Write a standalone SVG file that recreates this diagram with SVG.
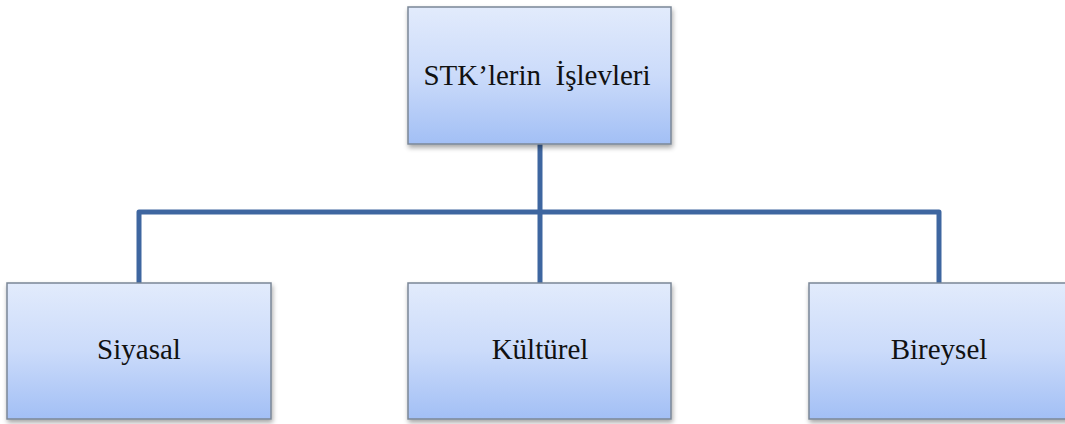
<svg xmlns="http://www.w3.org/2000/svg" width="1065" height="424" viewBox="0 0 1065 424">
<defs>
<linearGradient id="g" x1="0" y1="0" x2="0" y2="1">
<stop offset="0" stop-color="#e2ebfc"/>
<stop offset="0.5" stop-color="#cbdbfa"/>
<stop offset="1" stop-color="#a2bff5"/>
</linearGradient>
<filter id="sh" x="-10%" y="-10%" width="125%" height="130%">
<feGaussianBlur in="SourceAlpha" stdDeviation="2.5"/>
<feOffset dx="1" dy="3"/>
<feComponentTransfer><feFuncA type="linear" slope="0.35"/></feComponentTransfer>
<feMerge><feMergeNode/><feMergeNode in="SourceGraphic"/></feMerge>
</filter>
</defs>
<style>
.box{fill:url(#g);stroke:#7b8796;stroke-width:1.5;filter:url(#sh)}
.lbl{font-family:"Liberation Serif","Times New Roman",serif;font-size:29px;fill:#111;text-anchor:middle;white-space:pre}
.conn{fill:none;stroke:#3e66a0;stroke-width:5;stroke-linejoin:round}
</style>
<g id="connectors">
<path class="conn" d="M540 144 V212 M139 283 V212 H939 V283 M540 212 V283"/>
</g>
<g id="root">
<rect class="box" x="408" y="7" width="263" height="137"/>
<text class="lbl" x="537" y="85" xml:space="preserve">STK’lerin  İşlevleri</text>
</g>
<g id="siyasal">
<rect class="box" x="7" y="283" width="264" height="136"/>
<text class="lbl" x="139" y="359">Siyasal</text>
</g>
<g id="kulturel">
<rect class="box" x="408" y="283" width="263" height="136"/>
<text class="lbl" x="540" y="359">Kültürel</text>
</g>
<g id="bireysel">
<rect class="box" x="809" y="283" width="262" height="136"/>
<text class="lbl" x="939" y="359">Bireysel</text>
</g>
</svg>
